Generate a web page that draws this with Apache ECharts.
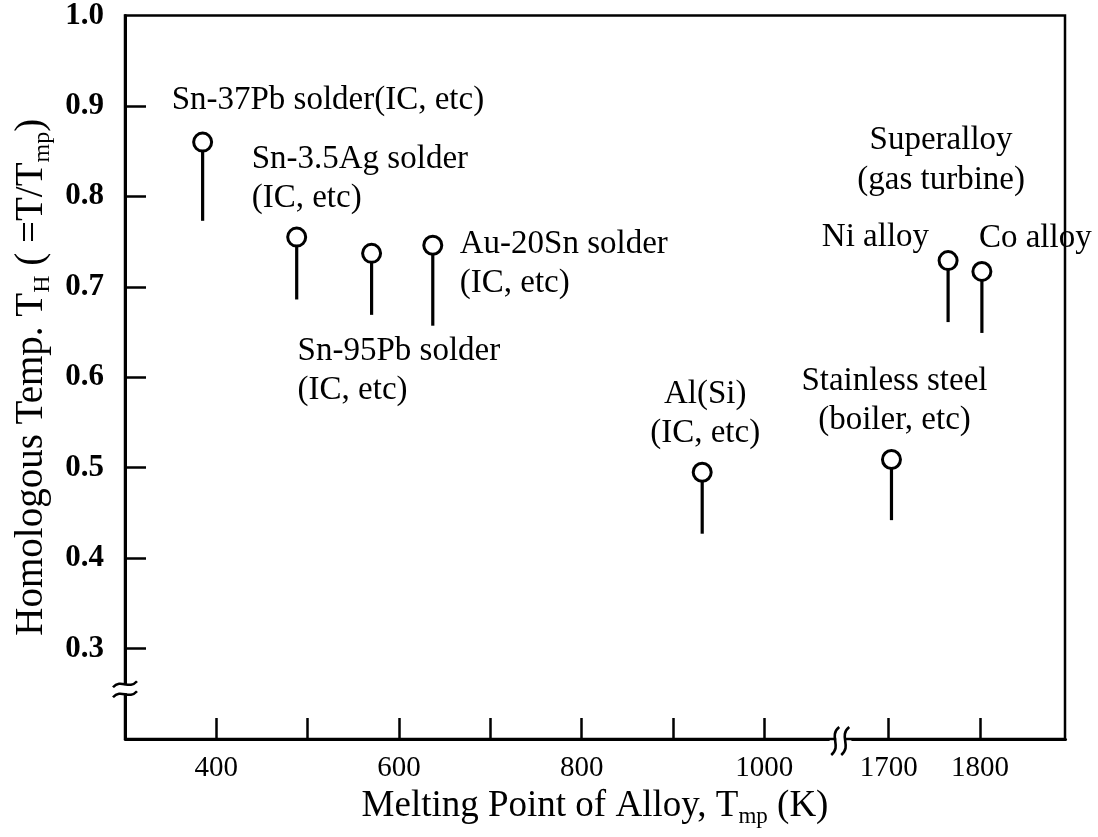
<!DOCTYPE html>
<html><head><meta charset="utf-8">
<script src="https://cdn.jsdelivr.net/npm/echarts@6/dist/echarts.min.js"></script>
<style>html,body{margin:0;padding:0;background:#fff}#c{width:1098px;height:837px}</style>
</head><body><div id="c"></div>
<script>
// ---- data ----
const alloys = ['Sn-37Pb', 'Sn-3.5Ag', 'Sn-95Pb', 'Au-20Sn', 'Al(Si)', 'Stainless steel', 'Ni alloy', 'Co alloy'];
const alloyLabels = ['Sn-37Pb solder(IC, etc)', 'Sn-3.5Ag solder\n(IC, etc)', 'Sn-95Pb solder\n(IC, etc)',
  'Au-20Sn solder\n(IC, etc)', 'Al(Si)\n(IC, etc)', 'Stainless steel\n(boiler, etc)', 'Ni alloy', 'Co alloy'];
const meltingPointK = [385, 488, 570, 637, 932, 1703, 1765, 1802];
const thUpper = [0.86, 0.755, 0.737, 0.746, 0.495, 0.509, 0.729, 0.717];
const thLower = [0.773, 0.686, 0.669, 0.657, 0.427, 0.442, 0.661, 0.649];
const groupLabel = 'Superalloy\n(gas turbine)';
const groupMembers = ['Ni alloy', 'Co alloy'];
const xTickValues = [400, 500, 600, 700, 800, 900, 1000, 1700, 1800];
const xTickLabels = [400, 600, 800, 1000, 1700, 1800];
const yTickValues = [0.3, 0.4, 0.5, 0.6, 0.7, 0.8, 0.9];
const yTickLabels = [0.3, 0.4, 0.5, 0.6, 0.7, 0.8, 0.9, 1.0];
const xBreak = [1070, 1660];
const yBreakValue = 0.255;

// ---- layout (pixel offsets of annotation text from each marker) ----
const labelLayout = {
  'Sn-37Pb': {dx: -31, dy: -42, align: 'left'},
  'Sn-3.5Ag': {dx: -45, dy: -58, align: 'left'},
  'Sn-95Pb': {dx: -74, dy: 117, align: 'left'},
  'Au-20Sn': {dx: 27, dy: 19, align: 'left'},
  'Al(Si)': {dx: 3, dy: -58, align: 'center'},
  'Stainless steel': {dx: 3, dy: -59, align: 'center'},
  'Ni alloy': {dx: -19, dy: -23, align: 'right'},
  'Co alloy': {dx: -3, dy: -33, align: 'left'}
};
const groupLayout = {dx: -7, dy: -100};
const FONT = '"Liberation Serif", "Times New Roman", serif';
const annFont = '33px ' + FONT;

const chart = echarts.init(document.getElementById('c'));
const data = alloys.map((a, i) => [meltingPointK[i], thUpper[i], thLower[i]]);

chart.setOption({
  backgroundColor: '#fff',
  animation: false,
  grid: {left: 125, right: 33, top: 13, bottom: 98, show: true, borderColor: '#000', borderWidth: 2.5, backgroundColor: 'transparent'},
  xAxis: {
    type: 'value', min: 300, max: 1893, interval: 100,
    breaks: [{start: xBreak[0], end: xBreak[1], gap: '2.55%'}],
    breakArea: {show: false},
    splitLine: {show: false},
    axisLine: {onZero: false, lineStyle: {color: '#000', width: 3}},
    axisTick: {inside: true, length: 21, customValues: xTickValues, lineStyle: {color: '#000', width: 2.5}},
    axisLabel: {customValues: xTickLabels, color: '#000', fontFamily: FONT, fontSize: 29, margin: 15,
      formatter: v => xTickLabels.indexOf(v) >= 0 ? String(v) : ''},
    name: '{a|Melting Point of Alloy, T}{s|mp}{a| (K)}',
    nameLocation: 'middle', nameGap: 45,
    nameTextStyle: {rich: {
      a: {fontFamily: FONT, fontSize: 37, lineHeight: 44, color: '#000'},
      s: {fontFamily: FONT, fontSize: 23, lineHeight: 24, verticalAlign: 'bottom', color: '#000'}
    }}
  },
  yAxis: {
    type: 'value', min: 0.2, max: 1.0, interval: 0.1,
    splitLine: {show: false},
    axisLine: {onZero: false, lineStyle: {color: '#000', width: 3}},
    axisTick: {inside: true, length: 21, customValues: yTickValues, lineStyle: {color: '#000', width: 2.5}},
    axisLabel: {customValues: yTickLabels, color: '#000', fontFamily: FONT, fontWeight: 'bold', fontSize: 31, margin: 21,
      formatter: v => v >= 0.25 ? v.toFixed(1) : ''},
    name: '{a|Homologous Temp. T}{s|H}{a| ( =T/T}{s|mp}{a|)}',
    nameLocation: 'middle', nameRotate: 90, nameGap: 70,
    nameTextStyle: {rich: {
      a: {fontFamily: FONT, fontSize: 39, lineHeight: 46, color: '#000'},
      s: {fontFamily: FONT, fontSize: 24, lineHeight: 25, verticalAlign: 'bottom', color: '#000'}
    }}
  },
  series: [{
    type: 'custom',
    clip: false,
    data: data,
    encode: {x: 0, y: [1, 2]},
    renderItem: function (params, api) {
      const i = params.dataIndex;
      const top = api.coord([api.value(0), api.value(1)]);
      const bot = api.coord([api.value(0), api.value(2)]);
      const r = 9;
      const L = labelLayout[alloys[i]];
      const children = [
        {type: 'line', shape: {x1: top[0], y1: top[1] + r, x2: bot[0], y2: bot[1]}, style: {stroke: '#000', lineWidth: 3.2}},
        {type: 'circle', shape: {cx: top[0], cy: top[1], r: r}, style: {fill: '#fff', stroke: '#000', lineWidth: 3}},
        {type: 'text', x: top[0] + L.dx, y: top[1] + L.dy,
          style: {text: alloyLabels[i], font: annFont, fill: '#000', align: L.align, verticalAlign: 'middle', lineHeight: 39}}
      ];
      if (alloys[i] === groupMembers[0]) {
        children.push({type: 'text', x: top[0] + groupLayout.dx, y: top[1] + groupLayout.dy,
          style: {text: groupLabel, font: annFont, fill: '#000', align: 'center', verticalAlign: 'middle', lineHeight: 40}});
      }
      return {type: 'group', children: children};
    }
  }]
});

// axis-break symbols placed through the axes' own scales
const bx0 = chart.convertToPixel({xAxisIndex: 0}, xBreak[0]);
const bx1 = chart.convertToPixel({xAxisIndex: 0}, xBreak[1]);
const bxc = (bx0 + bx1) / 2;
const axisY = chart.convertToPixel({yAxisIndex: 0}, 0.2);
const axisX = chart.convertToPixel({xAxisIndex: 0}, 300);
const byc = chart.convertToPixel({yAxisIndex: 0}, yBreakValue);
function vWave(cx, cy) {
  return {type: 'bezierCurve', shape: {x1: cx - 4, y1: cy + 14, x2: cx + 4, y2: cy - 14, cpx1: cx + 7, cpy1: cy + 5, cpx2: cx - 7, cpy2: cy - 5},
    style: {stroke: '#000', lineWidth: 2.6, fill: null}, z: 100};
}
function hWave(cx, cy) {
  return {type: 'bezierCurve', shape: {x1: cx - 12, y1: cy + 3, x2: cx + 12, y2: cy - 3, cpx1: cx - 4, cpy1: cy - 6, cpx2: cx + 4, cpy2: cy + 6},
    style: {stroke: '#000', lineWidth: 2.6, fill: null}, z: 100};
}
chart.setOption({graphic: [
  {type: 'rect', shape: {x: bxc - 4, y: axisY - 3, width: 8, height: 6}, style: {fill: '#fff'}, z: 99},
  vWave(bxc - 5, axisY + 2), vWave(bxc + 5, axisY + 2),
  {type: 'rect', shape: {x: axisX - 3, y: byc - 4, width: 6, height: 8}, style: {fill: '#fff'}, z: 99},
  hWave(axisX, byc - 5), hWave(axisX, byc + 5)
]});
</script>
</body></html>
